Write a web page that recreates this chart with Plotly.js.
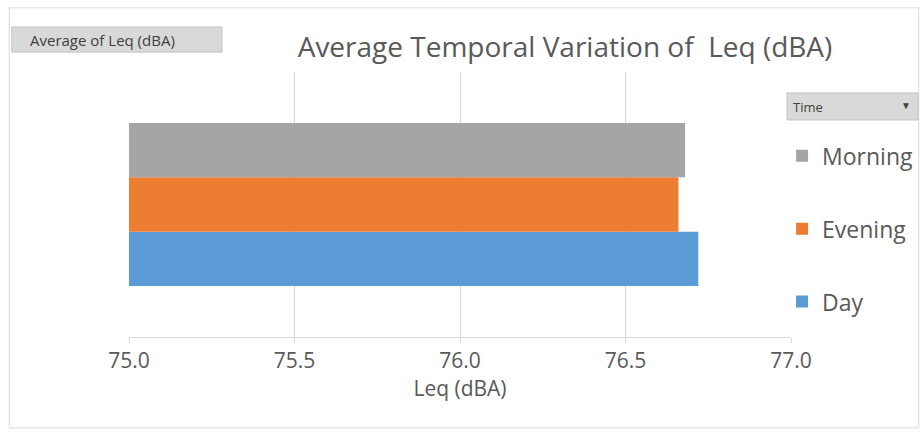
<!DOCTYPE html>
<html>
<head>
<meta charset="utf-8">
<script src="https://cdn.plot.ly/plotly-3.0.1.min.js"></script>
<style>html,body{margin:0;padding:0;background:#fff;}#chart{width:920px;height:435px;}</style>
</head>
<body>
<div id="chart"></div>
<script>
var category = ["Total"];
var seriesNames = ["Day", "Evening", "Morning"];
var dayValues = [76.72];
var eveningValues = [76.66];
var morningValues = [76.68];
var xTicks = [75.0, 75.5, 76.0, 76.5, 77.0];
var xTickLabels = ["75.0", "75.5", "76.0", "76.5", "77.0"];

var colors = {Day: "#5B9BD5", Evening: "#ED7D31", Morning: "#A5A5A5"};
var valuesBySeries = {Day: dayValues, Evening: eveningValues, Morning: morningValues};
var legendRanks = {Morning: 1, Evening: 2, Day: 3};

var traces = seriesNames.map(function (name) {
  return {
    type: "bar",
    orientation: "h",
    name: name,
    legendgroup: name,
    legendrank: legendRanks[name],
    x: valuesBySeries[name],
    y: category,
    marker: {color: colors[name]},
    hoverinfo: "x+name"
  };
});

var font = "'Open Sans', 'Noto Sans', sans-serif";
var layout = {
  width: 920,
  height: 435,
  margin: {l: 129, r: 129, t: 72, b: 98, autoexpand: false},
  paper_bgcolor: "#ffffff",
  plot_bgcolor: "#ffffff",
  barmode: "group",
  bargap: 0.385,
  bargroupgap: 0,
  font: {family: font, color: "#595959"},
  title: {
    text: "Average Temporal Variation of  Leq (dBA)",
    font: {family: font, size: 28, color: "#595959"},
    x: 565 / 920, xanchor: "center", xref: "container",
    y: 1 - 47 / 435, yref: "container", yanchor: "middle"
  },
  xaxis: {
    range: [75.0, 77.0],
    tickvals: xTicks,
    ticktext: xTickLabels,
    showgrid: true,
    gridcolor: "#d9d9d9",
    gridwidth: 1,
    zeroline: false,
    showline: true,
    linecolor: "#d9d9d9",
    ticks: "outside",
    ticklen: 5,
    tickcolor: "#d9d9d9",
    tickfont: {family: font, size: 21, color: "#595959"},
    title: {text: "Leq (dBA)", font: {family: font, size: 21, color: "#595959"}, standoff: 6},
    fixedrange: true
  },
  yaxis: {
    showticklabels: false,
    showgrid: false,
    zeroline: false,
    showline: false,
    ticks: "",
    fixedrange: true
  },
  showlegend: true,
  legend: {
    x: 0.9865, xanchor: "left",
    y: 0.765, yanchor: "top",
    traceorder: "grouped",
    tracegroupgap: 40,
    font: {family: font, size: 23, color: "#595959"},
    bgcolor: "rgba(0,0,0,0)",
    itemwidth: 30
  },
  shapes: [
    {type: "rect", xref: "paper", yref: "paper", x0: -0.181, x1: 1.193, y0: -0.343, y1: 1.242,
     line: {color: "#d9d9d9", width: 1}, fillcolor: "rgba(0,0,0,0)", layer: "below"},
    {type: "rect", xref: "paper", yref: "paper", x0: -0.177, x1: 0.1405, y0: 1.075, y1: 1.170,
     line: {color: "#c4c4c4", width: 1}, fillcolor: "#d9d9d9"},
    {type: "rect", xref: "paper", yref: "paper", x0: 0.994, x1: 1.192, y0: 0.819, y1: 0.921,
     line: {color: "#c4c4c4", width: 1}, fillcolor: "#d9d9d9"}
  ],
  annotations: [
    {xref: "paper", yref: "paper", x: -0.152, y: 1.1225, xanchor: "left", yanchor: "middle",
     text: "Average of Leq (dBA)", showarrow: false, font: {family: font, size: 15, color: "#404040"}},
    {xref: "paper", yref: "paper", x: 1.000, y: 0.867, xanchor: "left", yanchor: "middle",
     text: "Time", showarrow: false, font: {family: font, size: 13, color: "#404040"}},
    {xref: "paper", yref: "paper", x: 1.185, y: 0.875, xanchor: "right", yanchor: "middle",
     text: "▼", showarrow: false, font: {family: font, size: 10, color: "#404040"}}
  ]
};

Plotly.newPlot("chart", traces, layout, {displayModeBar: false, staticPlot: true});
</script>
</body>
</html>
